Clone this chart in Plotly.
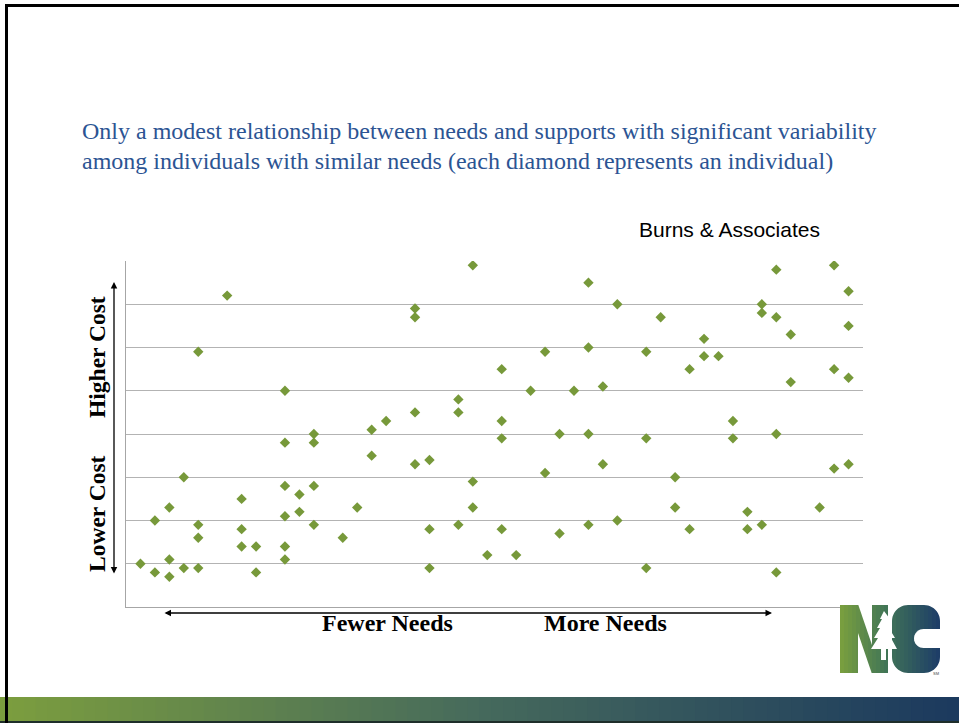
import math
import plotly.graph_objects as go

# ---- data ----
needs = [1, 2, 2, 3, 3, 3, 4, 4, 5, 5, 5, 5, 7, 8, 8, 8, 9, 9,
         11, 11, 11, 11, 11, 11, 12, 12, 13, 13, 13, 13, 15, 16, 17, 17, 18,
         20, 20, 20, 20, 21, 21, 21, 23, 23, 23, 24, 24, 24, 25,
         26, 26, 26, 26, 27, 28, 29, 29, 30, 30, 31, 32, 32, 32, 32,
         33, 33, 34, 34, 36, 36, 36, 37, 38, 38, 39, 39, 40, 40, 41,
         42, 42, 43, 43, 44, 44, 44, 45, 45, 45, 45, 46, 46, 48,
         49, 49, 49, 50, 50, 50, 50]
cost = [1.0, 2.0, 0.8, 2.3, 1.1, 0.7, 3.0, 0.9, 5.9, 1.9, 1.6, 0.9, 7.2, 2.5, 1.8, 1.4, 1.4, 0.8,
        5.0, 3.8, 2.8, 2.1, 1.4, 1.1, 2.6, 2.2, 4.0, 3.8, 2.8, 1.9, 1.6, 2.3, 4.1, 3.5, 4.3,
        6.9, 6.7, 4.5, 3.3, 3.4, 1.8, 0.9, 4.8, 4.5, 1.9, 7.9, 2.9, 2.3, 1.2,
        5.5, 4.3, 3.9, 1.8, 1.2, 5.0, 5.9, 3.1, 4.0, 1.7, 5.0, 7.5, 6.0, 4.0, 1.9,
        5.1, 3.3, 7.0, 2.0, 5.9, 3.9, 0.9, 6.7, 3.0, 2.3, 5.5, 1.8, 6.2, 5.8, 5.8,
        4.3, 3.9, 2.2, 1.8, 7.0, 6.8, 1.9, 7.8, 6.7, 4.0, 0.8, 6.3, 5.2, 2.3,
        7.9, 5.5, 3.2, 7.3, 6.5, 5.3, 3.3]

title_lines = ["Only a modest relationship between needs and supports with significant variability",
               "among individuals with similar needs (each diamond represents an individual)"]
source_label = "Burns & Associates"
x_labels = ["Fewer Needs", "More Needs"]
y_labels = ["Lower Cost", "Higher Cost"]

W, H = 959, 723


def px(x):
    return x / W


def py(y):
    return 1 - y / H


def path_from(points):
    return "M " + " L ".join("%.5f %.5f" % (px(x), py(y)) for x, y in points) + " Z"


def make_lerp(stops):
    def f(t):
        for (t0, c0), (t1, c1) in zip(stops[:-1], stops[1:]):
            if t0 <= t <= t1:
                u = (t - t0) / (t1 - t0)
                return "rgb(%d,%d,%d)" % tuple(round(a + (b - a) * u) for a, b in zip(c0, c1))
        return "rgb(%d,%d,%d)" % stops[-1][1]
    return f


fig = go.Figure()
fig.add_trace(go.Scatter(
    x=needs, y=cost, mode="markers",
    marker=dict(symbol="diamond", size=8, color="#77993a", line=dict(width=0)),
    hoverinfo="x+y", showlegend=False))

fig.update_layout(
    width=W, height=H,
    margin=dict(l=0, r=0, t=0, b=0),
    paper_bgcolor="white", plot_bgcolor="white",
    xaxis=dict(domain=[px(126), px(863)], range=[0, 51], showgrid=False,
               zeroline=False, showticklabels=False, ticks="",
               showline=True, linecolor="#a6a6a6", linewidth=1, mirror=False),
    yaxis=dict(domain=[py(607), py(261)], range=[0, 8], dtick=1, showgrid=True,
               gridcolor="#b3b3b3", gridwidth=1, zeroline=False,
               showticklabels=False, ticks="",
               showline=True, linecolor="#a6a6a6", linewidth=1),
)

shapes = []
# bottom gradient bar
bar_color = make_lerp([(0.0, (124, 158, 62)), (0.5, (70, 106, 92)), (1.0, (27, 57, 94))])
n = 80
for i in range(n):
    shapes.append(dict(type="rect", xref="paper", yref="paper", x0=i / n, x1=(i + 1) / n + 0.002,
                       y0=py(723), y1=py(697), fillcolor=bar_color((i + 0.5) / n),
                       line=dict(width=0), layer="above"))
shapes.append(dict(type="rect", xref="paper", yref="paper", x0=0, x1=1,
                   y0=py(723), y1=py(721), fillcolor="#1e2e2a", line=dict(width=0)))
# slide border (top + left)
shapes.append(dict(type="rect", xref="paper", yref="paper", x0=px(5), x1=1,
                   y0=py(7), y1=py(4), fillcolor="black", line=dict(width=0)))
shapes.append(dict(type="rect", xref="paper", yref="paper", x0=px(5), x1=px(8),
                   y0=0, y1=py(4), fillcolor="black", line=dict(width=0)))

# ---- NC logo: gradient block carved with white masks ----
LX0, LX1, LY0, LY1 = 840, 940, 605, 673
logo_color = make_lerp([(0.0, (122, 160, 62)), (0.45, (66, 118, 86)), (1.0, (29, 60, 104))])
m = 25
for i in range(m):
    xa = LX0 + (LX1 - LX0) * i / m
    xb = min(LX1, LX0 + (LX1 - LX0) * (i + 1) / m + 2.0)
    shapes.append(dict(type="rect", xref="paper", yref="paper", x0=px(xa), x1=px(xb),
                       y0=py(LY1), y1=py(LY0), fillcolor=logo_color((i + 0.5) / m),
                       line=dict(width=0)))
masks = []
# N counters
masks.append([(858, 604), (872, 604), (872, 645)])
masks.append([(858, 633), (858, 674), (872, 674)])
# gap between N and C
masks.append([(888, 604), (892, 604), (892, 674), (888, 674)])


def corner(cx, cy, r, q):
    # white area outside a rounded corner; q gives the corner direction (sx, sy)
    sx, sy = q
    pts = [(cx + sx * (r + 1), cy + sy * (r + 1))]
    pts.append((cx + sx * (r + 1), cy))
    for k in range(13):
        a = math.radians(90 * k / 12)
        pts.append((cx + sx * r * math.cos(a), cy + sy * r * math.sin(a)))
    pts.append((cx, cy + sy * (r + 1)))
    return pts


r = 16
masks.append(corner(892 + r, 605 + r, r, (-1, -1)))
masks.append(corner(892 + r, 673 - r, r, (-1, 1)))
masks.append(corner(940 - r, 605 + r, r, (1, -1)))
masks.append(corner(940 - r, 673 - r, r, (1, 1)))
# C counter (slot open to the right, rounded left end)
sy0, sy1 = 629, 648
rr = (sy1 - sy0) / 2
slot = [(941, sy0)]
for k in range(19):
    a = math.radians(90 + 180 * k / 18)
    slot.append((914 + rr + rr * math.cos(a), (sy0 + sy1) / 2 - rr * math.sin(a)))
slot.append((941, sy1))
masks.append(slot)
for pts in masks:
    shapes.append(dict(type="path", path=path_from(pts), xref="paper", yref="paper",
                       fillcolor="white", line=dict(width=0)))
# tree (white silhouette) over the junction of N and C
tree_pts = [(884, 611), (880, 619), (882, 619), (877, 628), (880, 628), (874, 638),
            (878, 638), (871, 649), (881, 649), (881, 660), (886, 660), (886, 649),
            (897, 649), (891, 638), (895, 638), (889, 628), (892, 628), (888, 619),
            (890, 619)]
shapes.append(dict(type="path", path=path_from(tree_pts), xref="paper", yref="paper",
                   fillcolor="white", line=dict(width=0)))
fig.update_layout(shapes=shapes)

ann = []
ann.append(dict(x=px(80), y=py(131), xref="paper", yref="paper", text=title_lines[0],
                showarrow=False, xanchor="left", yanchor="middle",
                font=dict(family="Liberation Serif", size=24, color="#2c5493")))
ann.append(dict(x=px(80), y=py(161), xref="paper", yref="paper", text=title_lines[1],
                showarrow=False, xanchor="left", yanchor="middle",
                font=dict(family="Liberation Serif", size=24, color="#2c5493")))
ann.append(dict(x=px(637), y=py(230), xref="paper", yref="paper", text=source_label,
                showarrow=False, xanchor="left", yanchor="middle",
                font=dict(family="Liberation Sans", size=21, color="black")))
ann.append(dict(x=px(387), y=py(623), xref="paper", yref="paper", text="<b>%s</b>" % x_labels[0],
                showarrow=False, xanchor="center", yanchor="middle",
                font=dict(family="Liberation Serif", size=24, color="black")))
ann.append(dict(x=px(605), y=py(623), xref="paper", yref="paper", text="<b>%s</b>" % x_labels[1],
                showarrow=False, xanchor="center", yanchor="middle",
                font=dict(family="Liberation Serif", size=24, color="black")))
ann.append(dict(x=px(97), y=py(514), xref="paper", yref="paper", text="<b>%s</b>" % y_labels[0],
                showarrow=False, textangle=-90, xanchor="center", yanchor="middle",
                font=dict(family="Liberation Serif", size=23.5, color="black")))
ann.append(dict(x=px(97), y=py(357), xref="paper", yref="paper", text="<b>%s</b>" % y_labels[1],
                showarrow=False, textangle=-90, xanchor="center", yanchor="middle",
                font=dict(family="Liberation Serif", size=23.5, color="black")))
# double-headed arrows
ann.append(dict(x=px(114), y=py(282), xref="paper", yref="paper", ax=0, ay=575 - 282,
                axref="pixel", ayref="pixel", text="", showarrow=True,
                arrowhead=2, startarrowhead=2, arrowside="end+start",
                arrowwidth=1.3, arrowsize=1, startarrowsize=1, arrowcolor="black"))
ann.append(dict(x=px(772), y=py(613), xref="paper", yref="paper", ax=-(772 - 163), ay=0,
                axref="pixel", ayref="pixel", text="", showarrow=True,
                arrowhead=2, startarrowhead=2, arrowside="end+start",
                arrowwidth=1.3, arrowsize=1, startarrowsize=1, arrowcolor="black"))
ann.append(dict(x=px(936), y=py(673), xref="paper", yref="paper", text="SM",
                showarrow=False, xanchor="center", yanchor="middle",
                font=dict(family="Liberation Sans", size=4, color="#444")))
fig.update_layout(annotations=ann)

fig.write_html("out.html")
